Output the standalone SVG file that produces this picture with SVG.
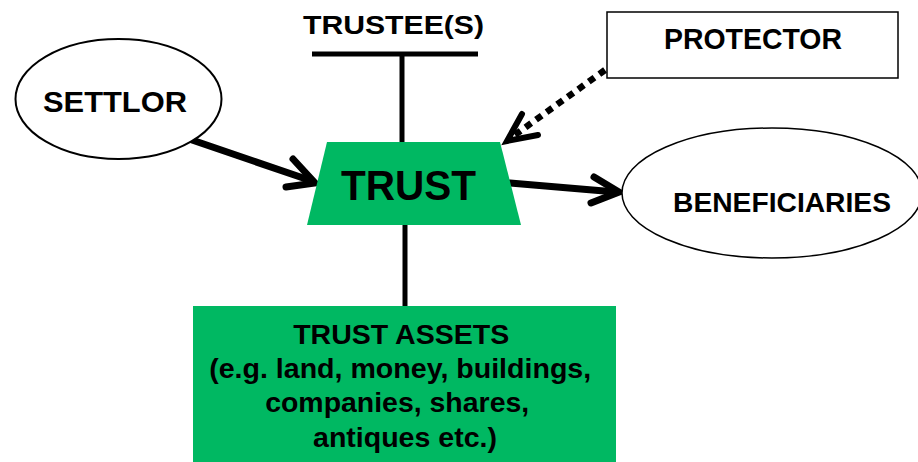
<svg xmlns="http://www.w3.org/2000/svg" width="918" height="462" viewBox="0 0 918 462">
  <style>
    .lbl { font-family: "Liberation Sans", Arial, sans-serif; font-weight: bold; fill: #000; text-anchor: middle; }
    .outline { fill: #fff; stroke: #000; stroke-width: 2; }
    .green { fill: #00b862; }
    .bar { stroke: #000; stroke-width: 5; fill: none; }
    .arrow { stroke: #000; stroke-width: 7; fill: none; stroke-linecap: round; stroke-linejoin: miter; }
    .dots { stroke: #000; stroke-width: 6.5; fill: none; stroke-dasharray: 7 6; }
  </style>
  <rect width="918" height="462" fill="#fff"/>

  <!-- connectors -->
  <g id="connectors">
    <!-- trustee bar and stem -->
    <line class="bar" x1="312" y1="54" x2="478" y2="54"/>
    <line class="bar" x1="402" y1="54" x2="402" y2="142"/>
    <!-- trust to assets -->
    <line class="bar" x1="405" y1="225" x2="405" y2="306"/>
    <!-- settlor to trust -->
    <line class="arrow" x1="192" y1="140" x2="312" y2="181"/>
    <polyline class="arrow" points="293,159 315,183 286,187"/>
    <!-- trust to beneficiaries -->
    <line class="arrow" x1="510" y1="183" x2="616" y2="192"/>
    <polyline class="arrow" points="594,177 619,192 591,203"/>
    <!-- protector to trust (dotted) -->
    <line class="dots" x1="605" y1="70" x2="512" y2="137"/>
    <polyline class="arrow" points="522,114 507,141 538,135" style="stroke-width:6"/>
  </g>

  <g id="trustees">
    <text class="lbl" x="393.5" y="34" font-size="26.5" textLength="181" lengthAdjust="spacingAndGlyphs">TRUSTEE(S)</text>
  </g>

  <g id="protector">
    <rect class="outline" x="607" y="12" width="291" height="66" style="stroke-width:1.5"/>
    <text class="lbl" x="753" y="49" font-size="29.5" textLength="178" lengthAdjust="spacingAndGlyphs">PROTECTOR</text>
  </g>

  <g id="settlor">
    <ellipse class="outline" cx="118.5" cy="99" rx="103" ry="60"/>
    <text class="lbl" x="115" y="112" font-size="30" textLength="144" lengthAdjust="spacingAndGlyphs">SETTLOR</text>
  </g>

  <g id="trust">
    <polygon class="green" points="327,142 500,142 521,225 307,225"/>
    <text class="lbl" x="408.5" y="200" font-size="43" textLength="135" lengthAdjust="spacingAndGlyphs">TRUST</text>
  </g>

  <g id="beneficiaries">
    <ellipse class="outline" cx="772" cy="193" rx="150" ry="65" style="stroke-width:1.5"/>
    <text class="lbl" x="782" y="212" font-size="27" textLength="218" lengthAdjust="spacingAndGlyphs">BENEFICIARIES</text>
  </g>

  <g id="trust-assets">
    <rect class="green" x="193" y="306" width="423" height="160"/>
    <text class="lbl" font-size="27.5">
      <tspan x="405" y="344" textLength="216" lengthAdjust="spacingAndGlyphs">TRUST ASSETS</tspan>
      <tspan x="404" y="378" textLength="382" lengthAdjust="spacingAndGlyphs">(e.g. land, money, buildings,</tspan>
      <tspan x="401" y="412" textLength="264" lengthAdjust="spacingAndGlyphs">companies, shares,</tspan>
      <tspan x="405" y="447" textLength="184" lengthAdjust="spacingAndGlyphs">antiques etc.)</tspan>
    </text>
  </g>
</svg>
